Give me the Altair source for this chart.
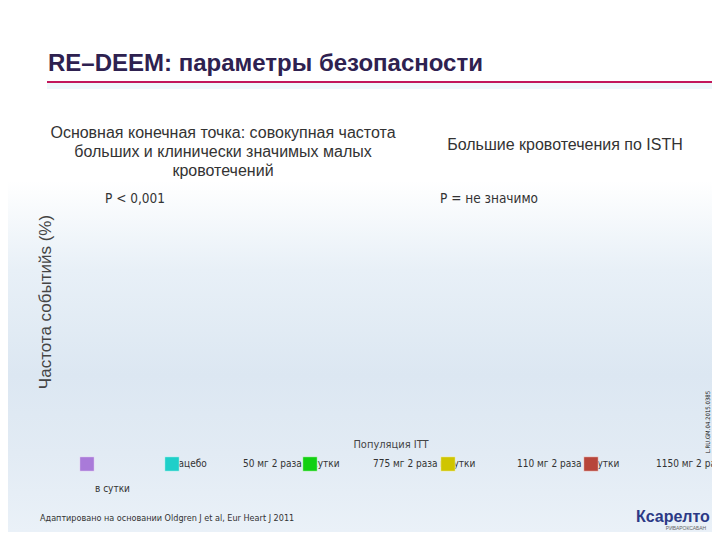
import altair as alt
import pandas as pd

# ---- content ----
title_text = "RE\u2013DEEM: параметры безопасности"
left_head = ["Основная конечная точка: совокупная частота",
             "больших и клинически значимых малых",
             "кровотечений"]
right_head = "Большие кровотечения по ISTH"
p_values = ["P < 0,001", "P = не значимо"]
y_title = "Частота событийs (%)"
population = "Популяция ITT"
legend_labels = ["", "Плацебо", "50 мг 2 раза в сутки", "775 мг 2 раза в сутки",
                 "110 мг 2 раза в сутки", "1150 мг 2 раза в сутки"]
legend_colors = ["#a97ad9", "#1fcfc9", "#12d012", "#cfc500", "#b7453b"]
footnote = "Адаптировано на основании Oldgren J et al, Eur Heart J 2011"
code_text = "L.RU.GM.04.2015.0385"
brand = "Ксарелто"
brand_sub = "РИВАРОКСАБАН"

# ---- layout (page pixel coordinates) ----
W, H = 704, 524
X0, Y0 = 8, 8
legend_label_x = [0, 166, 243, 373, 517, 656]
legend_square_x = [87, 172, 310, 448, 591]
legend_y = 464
NARROW = "DejaVu Sans Condensed"

xs = alt.Scale(domain=[X0, X0 + W], nice=False, zero=False)
ys = alt.Scale(domain=[Y0, Y0 + H], nice=False, zero=False, reverse=True)
X = lambda: alt.X("x:Q", scale=xs, axis=None)
Y = lambda: alt.Y("y:Q", scale=ys, axis=None)

bg = alt.Chart(alt.Data(values=[{}])).mark_rect(
    color=alt.Gradient(
        gradient="linear", x1=0, y1=0, x2=0, y2=1,
        stops=[alt.GradientStop(offset=0, color="#ffffff"),
               alt.GradientStop(offset=0.33, color="#ffffff"),
               alt.GradientStop(offset=0.5, color="#e8f0f7"),
               alt.GradientStop(offset=0.7, color="#dce7f2"),
               alt.GradientStop(offset=0.85, color="#e2ebf4"),
               alt.GradientStop(offset=1, color="#eaf1f8")]),
).encode(x=alt.value(0), x2=alt.value(W), y=alt.value(0), y2=alt.value(H))

band = alt.Chart(pd.DataFrame({"x": [47], "x2": [712], "y": [83], "y2": [89]})).mark_rect(
    color="#eef8fb").encode(x=X(), x2="x2:Q", y=Y(), y2="y2:Q")

rule = alt.Chart(pd.DataFrame({"x": [47], "x2": [712], "y": [82]})).mark_rule(
    color="#c2185b", strokeWidth=2).encode(x=X(), x2="x2:Q", y=Y())

def txt(df, **kw):
    return alt.Chart(df).mark_text(**kw).encode(x=X(), y=Y(), text="t:N")

title = txt(pd.DataFrame({"x": [48], "y": [64], "t": [title_text]}),
            align="left", baseline="middle", font="Liberation Sans", fontSize=24,
            fontWeight="bold", color="#2e2150")

heads = txt(pd.DataFrame({"x": [223, 223, 223, 565],
                          "y": [133, 152, 171, 145],
                          "t": left_head + [right_head]}),
            align="center", baseline="middle", font="Liberation Sans", fontSize=16,
            color="#333333")

pv = txt(pd.DataFrame({"x": [105, 440], "y": [199, 199], "t": p_values}),
         align="left", baseline="middle", font=NARROW, fontSize=13.5,
         color="#333333")

ytitle = txt(pd.DataFrame({"x": [46], "y": [302], "t": [y_title]}),
             align="center", baseline="middle", font="Liberation Sans", fontSize=17,
             angle=270, color="#444444")

pop = txt(pd.DataFrame({"x": [391], "y": [445], "t": [population]}),
          align="center", baseline="middle", font=NARROW, fontSize=11,
          color="#444444")

leg_text = txt(pd.DataFrame({"x": legend_label_x[1:] + [95],
                             "y": [legend_y] * 5 + [489],
                             "t": legend_labels[1:] + ["в сутки"]}),
               align="left", baseline="middle", font=NARROW, fontSize=10,
               color="#333333")

leg_sq = alt.Chart(pd.DataFrame({"x": legend_square_x, "y": [legend_y] * 5,
                                 "c": legend_colors})).mark_square(
    size=210, opacity=1, stroke="#ffffff", strokeWidth=0.5).encode(
    x=X(), y=Y(), color=alt.Color("c:N", scale=None))

foot = txt(pd.DataFrame({"x": [40], "y": [518], "t": [footnote]}),
           align="left", baseline="middle", font=NARROW, fontSize=9,
           color="#333333")

code = txt(pd.DataFrame({"x": [708], "y": [422], "t": [code_text]}),
           align="center", baseline="middle", font=NARROW, fontSize=6,
           angle=270, color="#111111")

logo = txt(pd.DataFrame({"x": [673], "y": [517], "t": [brand]}),
           align="center", baseline="middle", font="Liberation Sans", fontSize=16,
           fontWeight="bold", color="#2c3a86")
logo_sub = txt(pd.DataFrame({"x": [686], "y": [528], "t": [brand_sub]}),
               align="center", baseline="middle", font="Liberation Sans", fontSize=5,
               color="#666666")

chart = alt.layer(bg, band, rule, title, heads, pv, ytitle, pop, leg_text, leg_sq,
                  foot, code, logo, logo_sub).properties(
    width=W, height=H, autosize=alt.AutoSizeParams(type="none"), padding=0
).configure_view(stroke=None).configure(background="#ffffff")

chart.save("out.html", embed_options={"renderer": "svg", "actions": False})
